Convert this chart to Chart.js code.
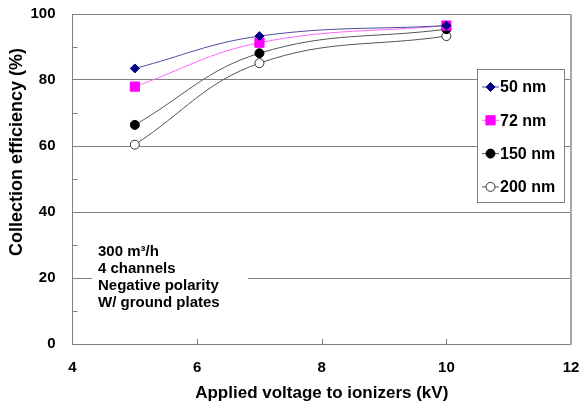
<!DOCTYPE html>
<html>
<head>
<meta charset="utf-8">
<script src="https://cdn.jsdelivr.net/npm/chart.js@4.4.1/dist/chart.umd.min.js"></script>
<style>
  html, body { margin: 0; padding: 0; background: #fff; }
  #wrap { width: 581px; height: 410px; }
</style>
</head>
<body>
<div id="wrap"><canvas id="effChart" width="581" height="410"></canvas></div>
<script>
/** COLLECTION EFFICIENCY VS IONIZER VOLTAGE **/

var voltages = [5, 7, 10];
var sizes = ["50 nm", "72 nm", "150 nm", "200 nm"];
var eff50 = [83.5, 93.3, 96.5];
var eff72 = [78.0, 91.3, 96.5];
var eff150 = [66.4, 88.1, 95.4];
var eff200 = [60.4, 85.1, 93.3];
var xTicks = [4, 6, 8, 10, 12];
var yTicks = [0, 20, 40, 60, 80, 100];
var noteLines = ["300 m\u00B3/h", "4 channels", "Negative polarity", "W/ ground plates"];

var FONT = "'Liberation Sans', Arial, sans-serif";

function pts(values) {
    return values.map(function (v, i) { return { x: voltages[i], y: v }; });
}

// small inside ticks, right frame, legend box and the note
var extras = {
    id: 'extras',
    afterDraw: function (chart) {
        var ctx = chart.ctx;
        var area = chart.chartArea;
        var xs = chart.scales.x, ys = chart.scales.y;
        ctx.save();

        ctx.strokeStyle = '#808080';
        ctx.lineWidth = 1;
        ctx.beginPath();
        [10, 30, 50, 70, 90].forEach(function (v) {
            var py = Math.round(ys.getPixelForValue(v)) + 0.5;
            ctx.moveTo(area.left, py);
            ctx.lineTo(area.left + 5, py);
        });
        [6, 8, 10].forEach(function (v) {
            var px = Math.round(xs.getPixelForValue(v)) + 0.5;
            ctx.moveTo(px, area.bottom);
            ctx.lineTo(px, area.bottom - 5);
        });
        ctx.stroke();

        ctx.strokeStyle = '#a6a6a6';
        ctx.lineWidth = 2;
        ctx.beginPath();
        ctx.moveTo(area.right, area.top);
        ctx.lineTo(area.right, area.bottom + 1);
        ctx.stroke();

        // legend
        ctx.fillStyle = '#fff';
        ctx.fillRect(477, 69, 87, 133);
        ctx.strokeStyle = '#808080';
        ctx.lineWidth = 1;
        ctx.strokeRect(477.5, 69.5, 87, 133);
        ctx.font = 'bold 16px ' + FONT;
        ctx.textBaseline = 'middle';
        ctx.textAlign = 'left';
        chart.data.datasets.forEach(function (ds, i) {
            var y = 87 + i * 33.3;
            ctx.strokeStyle = ds.borderColor;
            ctx.lineWidth = 1;
            ctx.beginPath();
            ctx.moveTo(482, y);
            ctx.lineTo(499, y);
            ctx.stroke();
            ctx.fillStyle = ds.pointBackgroundColor;
            ctx.strokeStyle = ds.pointBorderColor;
            Chart.helpers.drawPoint(ctx, {
                pointStyle: ds.pointStyle,
                radius: ds.pointRadius,
                borderWidth: 1,
                rotation: 0
            }, 490.5, y);
            ctx.fillStyle = '#000';
            ctx.fillText(ds.label, 500, y + 1);
        });

        // note
        ctx.fillStyle = '#fff';
        ctx.fillRect(92, 241, 156, 72);
        ctx.fillStyle = '#000';
        ctx.font = 'bold 15px ' + FONT;
        noteLines.forEach(function (t, i) {
            ctx.fillText(t, 98, 252 + i * 17);
        });

        // y axis title
        ctx.translate(17, 152);
        ctx.rotate(-Math.PI / 2);
        ctx.textAlign = 'center';
        ctx.font = 'bold 18px ' + FONT;
        ctx.fillText('Collection efficiency (%)', 0, 0);
        ctx.restore();
    }
};

var effChart = new Chart(document.getElementById('effChart'), {
    type: 'line',
    data: {
        datasets: [{
            label: sizes[0],
            data: pts(eff50),
            borderColor: '#4b4ba0',
            pointBackgroundColor: '#000080',
            pointBorderColor: '#000080',
            pointStyle: 'rectRot',
            pointRadius: 4.5
        }, {
            label: sizes[1],
            data: pts(eff72),
            borderColor: '#ff66ff',
            pointBackgroundColor: '#ff00ff',
            pointBorderColor: '#ff00ff',
            pointStyle: 'rect',
            pointRadius: 6.5
        }, {
            label: sizes[2],
            data: pts(eff150),
            borderColor: '#555555',
            pointBackgroundColor: '#000000',
            pointBorderColor: '#000000',
            pointStyle: 'circle',
            pointRadius: 4.5
        }, {
            label: sizes[3],
            data: pts(eff200),
            borderColor: '#555555',
            pointBackgroundColor: '#ffffff',
            pointBorderColor: '#333333',
            pointStyle: 'circle',
            pointRadius: 4.5
        }]
    },
    options: {
        responsive: false,
        animation: false,
        layout: { padding: { top: 14, right: 10, left: 0, bottom: 0 } },
        elements: {
            line: { borderWidth: 1, tension: 0.4 },
            point: { borderWidth: 1 }
        },
        plugins: {
            legend: { display: false },
            tooltip: { enabled: false }
        },
        scales: {
            x: {
                type: 'linear',
                min: 4,
                max: 12,
                afterBuildTicks: function (s) { s.ticks = xTicks.map(function (v) { return { value: v }; }); },
                afterFit: function (s) {
                    s.height = 66;
                    s.paddingLeft = 0;
                    s.paddingRight = 0;
                },
                grid: { display: false, drawTicks: false },
                border: { display: true, color: '#808080', width: 1 },
                ticks: { color: '#000', padding: 15, font: { family: FONT, size: 15, weight: 'bold' } },
                title: {
                    display: true,
                    text: 'Applied voltage to ionizers (kV)',
                    color: '#000',
                    padding: { top: 4, bottom: 6 },
                    font: { family: FONT, size: 17, weight: 'bold' }
                }
            },
            y: {
                min: 0,
                max: 100,
                afterBuildTicks: function (s) { s.ticks = yTicks.map(function (v) { return { value: v }; }); },
                afterFit: function (s) {
                    s.width = 72.5;
                    s.paddingTop = 0;
                    s.paddingBottom = 0;
                },
                grid: { color: '#808080', lineWidth: 1, drawTicks: false },
                border: { display: true, color: '#808080', width: 1 },
                ticks: { color: '#000', padding: 17, font: { family: FONT, size: 15, weight: 'bold' } }
            }
        }
    },
    plugins: [extras]
});
</script>
</body>
</html>
